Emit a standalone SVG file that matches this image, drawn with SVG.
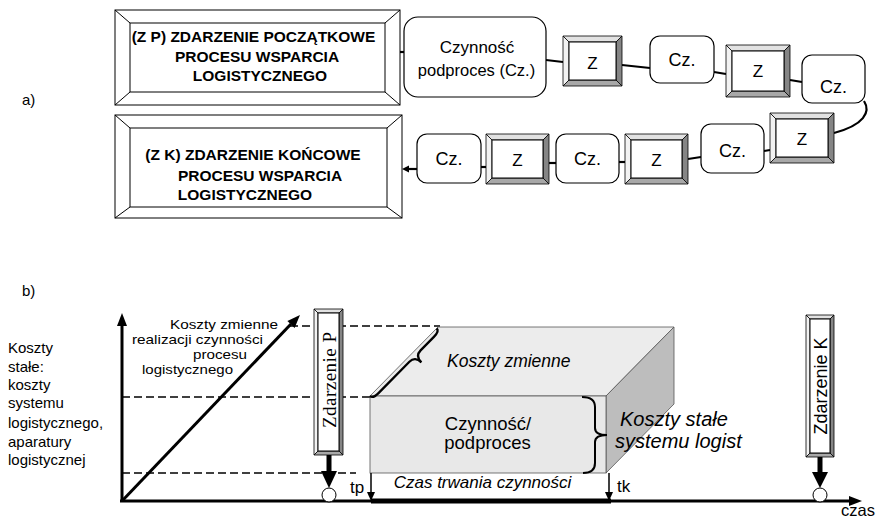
<svg xmlns="http://www.w3.org/2000/svg" width="878" height="518" viewBox="0 0 878 518">
<style>
text{font-family:"Liberation Sans",Arial,sans-serif;fill:#000}
.big{font-size:15.5px;font-weight:bold}
.cz{font-size:18px;text-anchor:middle}
.z{font-size:17px;text-anchor:middle}
.lbl{font-size:15px}
.dl{font-size:13px}
.it{font-style:italic}
.bev{fill:#fff;stroke:#000;stroke-width:1}
.bt{fill:#e2e2e2;stroke:#000;stroke-width:0.8}
.bl{fill:#f2f2f2;stroke:#000;stroke-width:0.8}
.br{fill:#858585;stroke:#000;stroke-width:0.8}
.bb{fill:#a8a8a8;stroke:#000;stroke-width:0.8}
.inner{fill:#fff;stroke:#000;stroke-width:1}
.rr{fill:#fff;stroke:#000;stroke-width:1.2}
.con{stroke:#000;stroke-width:2.2;fill:none}
.dash{stroke:#000;stroke-width:1.5;stroke-dasharray:8 4;fill:none}
.axis{stroke:#000;stroke-width:3;fill:none}
.edge{stroke:#555;stroke-width:0.8}
</style>

<text class="lbl" x="22" y="105">a)</text>
<text class="lbl" x="22" y="296">b)</text>

<!-- connectors part a -->
<g id="connectors">
  <line class="con" x1="400" y1="52" x2="404" y2="52"/>
  <line class="con" x1="546" y1="60" x2="563" y2="62"/>
  <line class="con" x1="622" y1="65" x2="650" y2="68"/>
  <line class="con" x1="714" y1="72" x2="726" y2="74"/>
  <line class="con" x1="790" y1="80" x2="802" y2="82"/>
  <path class="con" d="M864,101 C871,112 864,125 834,133"/>
  <line class="con" x1="770" y1="150" x2="764" y2="151"/>
  <line class="con" x1="701" y1="157" x2="688" y2="159"/>
  <line class="con" x1="625" y1="162" x2="619" y2="162"/>
  <line class="con" x1="556" y1="163" x2="549" y2="163"/>
  <line class="con" x1="486" y1="167" x2="481" y2="167"/>
  <line class="con" x1="417" y1="169" x2="407" y2="169"/>
  <polygon points="402,169 409,165.5 409,172.5" fill="#000"/>
</g>

<!-- big start box -->
<g id="zp">
  <rect class="bev" x="115" y="10" width="285" height="95"/>
  <line stroke="#000" stroke-width="1" x1="115" y1="10" x2="130" y2="23"/>
  <line stroke="#000" stroke-width="1" x1="400" y1="10" x2="385" y2="23"/>
  <line stroke="#000" stroke-width="1" x1="115" y1="105" x2="130" y2="92"/>
  <line stroke="#000" stroke-width="1" x1="400" y1="105" x2="385" y2="92"/>
  <rect class="inner" x="130" y="23" width="255" height="69"/>
  <text class="big" x="253.5" y="42" text-anchor="middle">(Z P) ZDARZENIE POCZĄTKOWE</text>
  <text class="big" x="257" y="62" text-anchor="middle">PROCESU WSPARCIA</text>
  <text class="big" x="260" y="81" text-anchor="middle">LOGISTYCZNEGO</text>
</g>

<!-- big end box -->
<g id="zk">
  <rect class="bev" x="115" y="115" width="287" height="103"/>
  <line stroke="#000" stroke-width="1" x1="115" y1="115" x2="130" y2="128"/>
  <line stroke="#000" stroke-width="1" x1="402" y1="115" x2="387" y2="128"/>
  <line stroke="#000" stroke-width="1" x1="115" y1="218" x2="130" y2="207"/>
  <line stroke="#000" stroke-width="1" x1="402" y1="218" x2="387" y2="207"/>
  <rect class="inner" x="130" y="128" width="257" height="79"/>
  <text class="big" x="253" y="160" text-anchor="middle">(Z K) ZDARZENIE KOŃCOWE</text>
  <text class="big" x="260" y="181" text-anchor="middle">PROCESU WSPARCIA</text>
  <text class="big" x="245" y="200" text-anchor="middle">LOGISTYCZNEGO</text>
</g>

<!-- Cz boxes -->
<g id="cz1">
  <rect class="rr" x="404" y="17" width="142" height="80" rx="14"/>
  <text x="477" y="53" font-size="17px" text-anchor="middle">Czynność</text>
  <text x="476.5" y="76" font-size="16.5px" text-anchor="middle">podproces (Cz.)</text>
</g>
<g id="cz2"><rect class="rr" x="650" y="36" width="64" height="47" rx="10"/><text class="cz" x="682" y="66">Cz.</text></g>
<g id="cz3"><rect class="rr" x="802" y="55" width="63" height="48" rx="10"/><text class="cz" x="833.5" y="93">Cz.</text></g>
<g id="cz4"><rect class="rr" x="701" y="124" width="63" height="49" rx="10"/><text class="cz" x="732.5" y="157">Cz.</text></g>
<g id="cz5"><rect class="rr" x="556" y="134" width="63" height="49" rx="10"/><text class="cz" x="587.5" y="165">Cz.</text></g>
<g id="cz6"><rect class="rr" x="417" y="134" width="64" height="49" rx="10"/><text class="cz" x="449" y="165">Cz.</text></g>

<!-- Z boxes -->
<g id="z1">
  <polygon class="bt" points="563,36 622,36 616,42 569,42"/>
  <polygon class="bl" points="563,36 569,42 569,80 563,86"/>
  <polygon class="br" points="622,36 622,86 616,80 616,42"/>
  <polygon class="bb" points="563,86 622,86 616,80 569,80"/>
  <rect class="inner" x="569" y="42" width="47" height="38"/>
  <text class="z" x="592.5" y="69">Z</text>
</g>
<g id="z2">
  <polygon class="bt" points="726,45 790,45 784,51 732,51"/>
  <polygon class="bl" points="726,45 732,51 732,91 726,97"/>
  <polygon class="br" points="790,45 790,97 784,91 784,51"/>
  <polygon class="bb" points="726,97 790,97 784,91 732,91"/>
  <rect class="inner" x="732" y="51" width="52" height="40"/>
  <text class="z" x="758" y="77">Z</text>
</g>
<g id="z3">
  <polygon class="bt" points="770,113 834,113 828,119 776,119"/>
  <polygon class="bl" points="770,113 776,119 776,157 770,163"/>
  <polygon class="br" points="834,113 834,163 828,157 828,119"/>
  <polygon class="bb" points="770,163 834,163 828,157 776,157"/>
  <rect class="inner" x="776" y="119" width="52" height="38"/>
  <text class="z" x="802" y="145">Z</text>
</g>
<g id="z5">
  <polygon class="bt" points="625,134 688,134 682,140 631,140"/>
  <polygon class="bl" points="625,134 631,140 631,178 625,184"/>
  <polygon class="br" points="688,134 688,184 682,178 682,140"/>
  <polygon class="bb" points="625,184 688,184 682,178 631,178"/>
  <rect class="inner" x="631" y="140" width="51" height="38"/>
  <text class="z" x="656.5" y="166">Z</text>
</g>
<g id="z6">
  <polygon class="bt" points="486,134 549,134 543,140 492,140"/>
  <polygon class="bl" points="486,134 492,140 492,178 486,184"/>
  <polygon class="br" points="549,134 549,184 543,178 543,140"/>
  <polygon class="bb" points="486,184 549,184 543,178 492,178"/>
  <rect class="inner" x="492" y="140" width="51" height="38"/>
  <text class="z" x="517.5" y="166">Z</text>
</g>

<!-- part b -->
<g id="left-label" class="lbl">
  <text x="8" y="353">Koszty</text>
  <text x="8" y="372">stałe:</text>
  <text x="8" y="390">koszty</text>
  <text x="8" y="408">systemu</text>
  <text x="8" y="428">logistycznego,</text>
  <text x="8" y="447">aparatury</text>
  <text x="8" y="465">logistycznej</text>
</g>

<g id="dashes">
  <line class="dash" x1="290" y1="326" x2="440" y2="326"/>
  <line class="dash" x1="122" y1="397" x2="370" y2="397"/>
  <line class="dash" x1="122" y1="473" x2="356" y2="473"/>
</g>

<g id="box3d">
  <polygon points="370,396 606,396 674,327 438,327" fill="#ececec" class="edge"/>
  <polygon points="606,396 674,327 674,404 606,473" fill="#bdbdbd" class="edge"/>
  <rect x="370" y="396" width="236" height="77" fill="#e8e8e8" class="edge"/>
  <path d="M370,396 Q372.8,398.8 378.5,393.1 L409.4,361.8 Q415,356.1 421.4,362.4 Q415,356.1 420.6,350.4 L433.9,336.9 Q439.5,331.2 436.7,328.4" fill="none" stroke="#000" stroke-width="2.3"/>
  <path d="M582,397 Q595,397 595,407 L595,428 Q595,435 607,435 Q595,435 595,442 L595,463 Q595,473 583,473" fill="none" stroke="#000" stroke-width="2"/>
  <text class="it" x="447" y="367" font-size="17.5px">Koszty zmienne</text>
  <text x="488" y="430" font-size="18.5px" text-anchor="middle">Czynność/</text>
  <text x="487.5" y="449" font-size="18.5px" text-anchor="middle">podproces</text>
  <text class="it" x="620" y="426" font-size="20px">Koszty stałe</text>
  <text class="it" x="615" y="448" font-size="20px">systemu logist</text>
  <text class="it" x="482.5" y="488" font-size="17px" text-anchor="middle">Czas trwania czynności</text>
</g>

<g id="axes">
  <line class="axis" x1="122" y1="501" x2="122" y2="324"/>
  <polygon points="122,313 117,326 127,326" fill="#000"/>
  <line class="axis" x1="120" y1="501" x2="852" y2="501"/>
  <polygon points="862,501 849,496 849,506" fill="#000"/>
  <line x1="371" y1="501" x2="611" y2="501" stroke="#000" stroke-width="5"/>
  <line class="axis" x1="122" y1="501" x2="291" y2="324"/>
  <polygon points="300,315 294.6,327.9 287.4,320.9" fill="#000"/>
  <line x1="371" y1="473" x2="371" y2="494" stroke="#000" stroke-width="1.5"/>
  <polygon points="371,501 367,492 375,492" fill="#000"/>
  <line x1="609" y1="473" x2="609" y2="494" stroke="#000" stroke-width="1.5"/>
  <polygon points="609,501 605,492 613,492" fill="#000"/>
  <text x="350" y="493" font-size="17px">tp</text>
  <text x="617" y="492" font-size="17px">tk</text>
  <text x="841" y="516" font-size="16.5px">czas</text>
</g>

<g id="diag-label" class="dl">
  <text x="170" y="329" textLength="108" lengthAdjust="spacingAndGlyphs">Koszty zmienne</text>
  <text x="132" y="344" textLength="131" lengthAdjust="spacingAndGlyphs">realizacji czynności</text>
  <text x="193" y="359" textLength="54" lengthAdjust="spacingAndGlyphs">procesu</text>
  <text x="142" y="374" textLength="91" lengthAdjust="spacingAndGlyphs">logistycznego</text>
</g>

<g id="zdarzenie-p">
  <polygon class="bt" points="314,309 343,309 339,313 318,313"/>
  <polygon class="bl" points="314,309 318,313 318,451 314,455"/>
  <polygon class="br" points="343,309 343,455 339,451 339,313"/>
  <polygon class="bb" points="314,455 343,455 339,451 318,451"/>
  <rect class="inner" x="318" y="313" width="21" height="138" fill="#f8f8f8"/>
  <text transform="translate(336,380) rotate(-90)" text-anchor="middle" textLength="96" lengthAdjust="spacing" style="font-family:'Liberation Serif','Times New Roman',serif;font-size:19px">Zdarzenie P</text>
  <line x1="329" y1="455" x2="329" y2="473" stroke="#000" stroke-width="5"/>
  <polygon points="321,471 337,471 329,488" fill="#000"/>
  <circle cx="329" cy="495" r="7" fill="#fff" stroke="#000" stroke-width="1"/>
</g>

<g id="zdarzenie-k">
  <polygon class="bt" points="806,315 834,315 830,319 810,319"/>
  <polygon class="bl" points="806,315 810,319 810,453 806,457"/>
  <polygon class="br" points="834,315 834,457 830,453 830,319"/>
  <polygon class="bb" points="806,457 834,457 830,453 810,453"/>
  <rect class="inner" x="810" y="319" width="20" height="134" fill="#f8f8f8"/>
  <text transform="translate(827,386) rotate(-90)" text-anchor="middle" font-size="18px">Zdarzenie K</text>
  <line x1="820" y1="457" x2="820" y2="474" stroke="#000" stroke-width="5"/>
  <polygon points="812,472 828,472 820,488" fill="#000"/>
  <circle cx="820" cy="495" r="7" fill="#fff" stroke="#000" stroke-width="1"/>
</g>
</svg>
